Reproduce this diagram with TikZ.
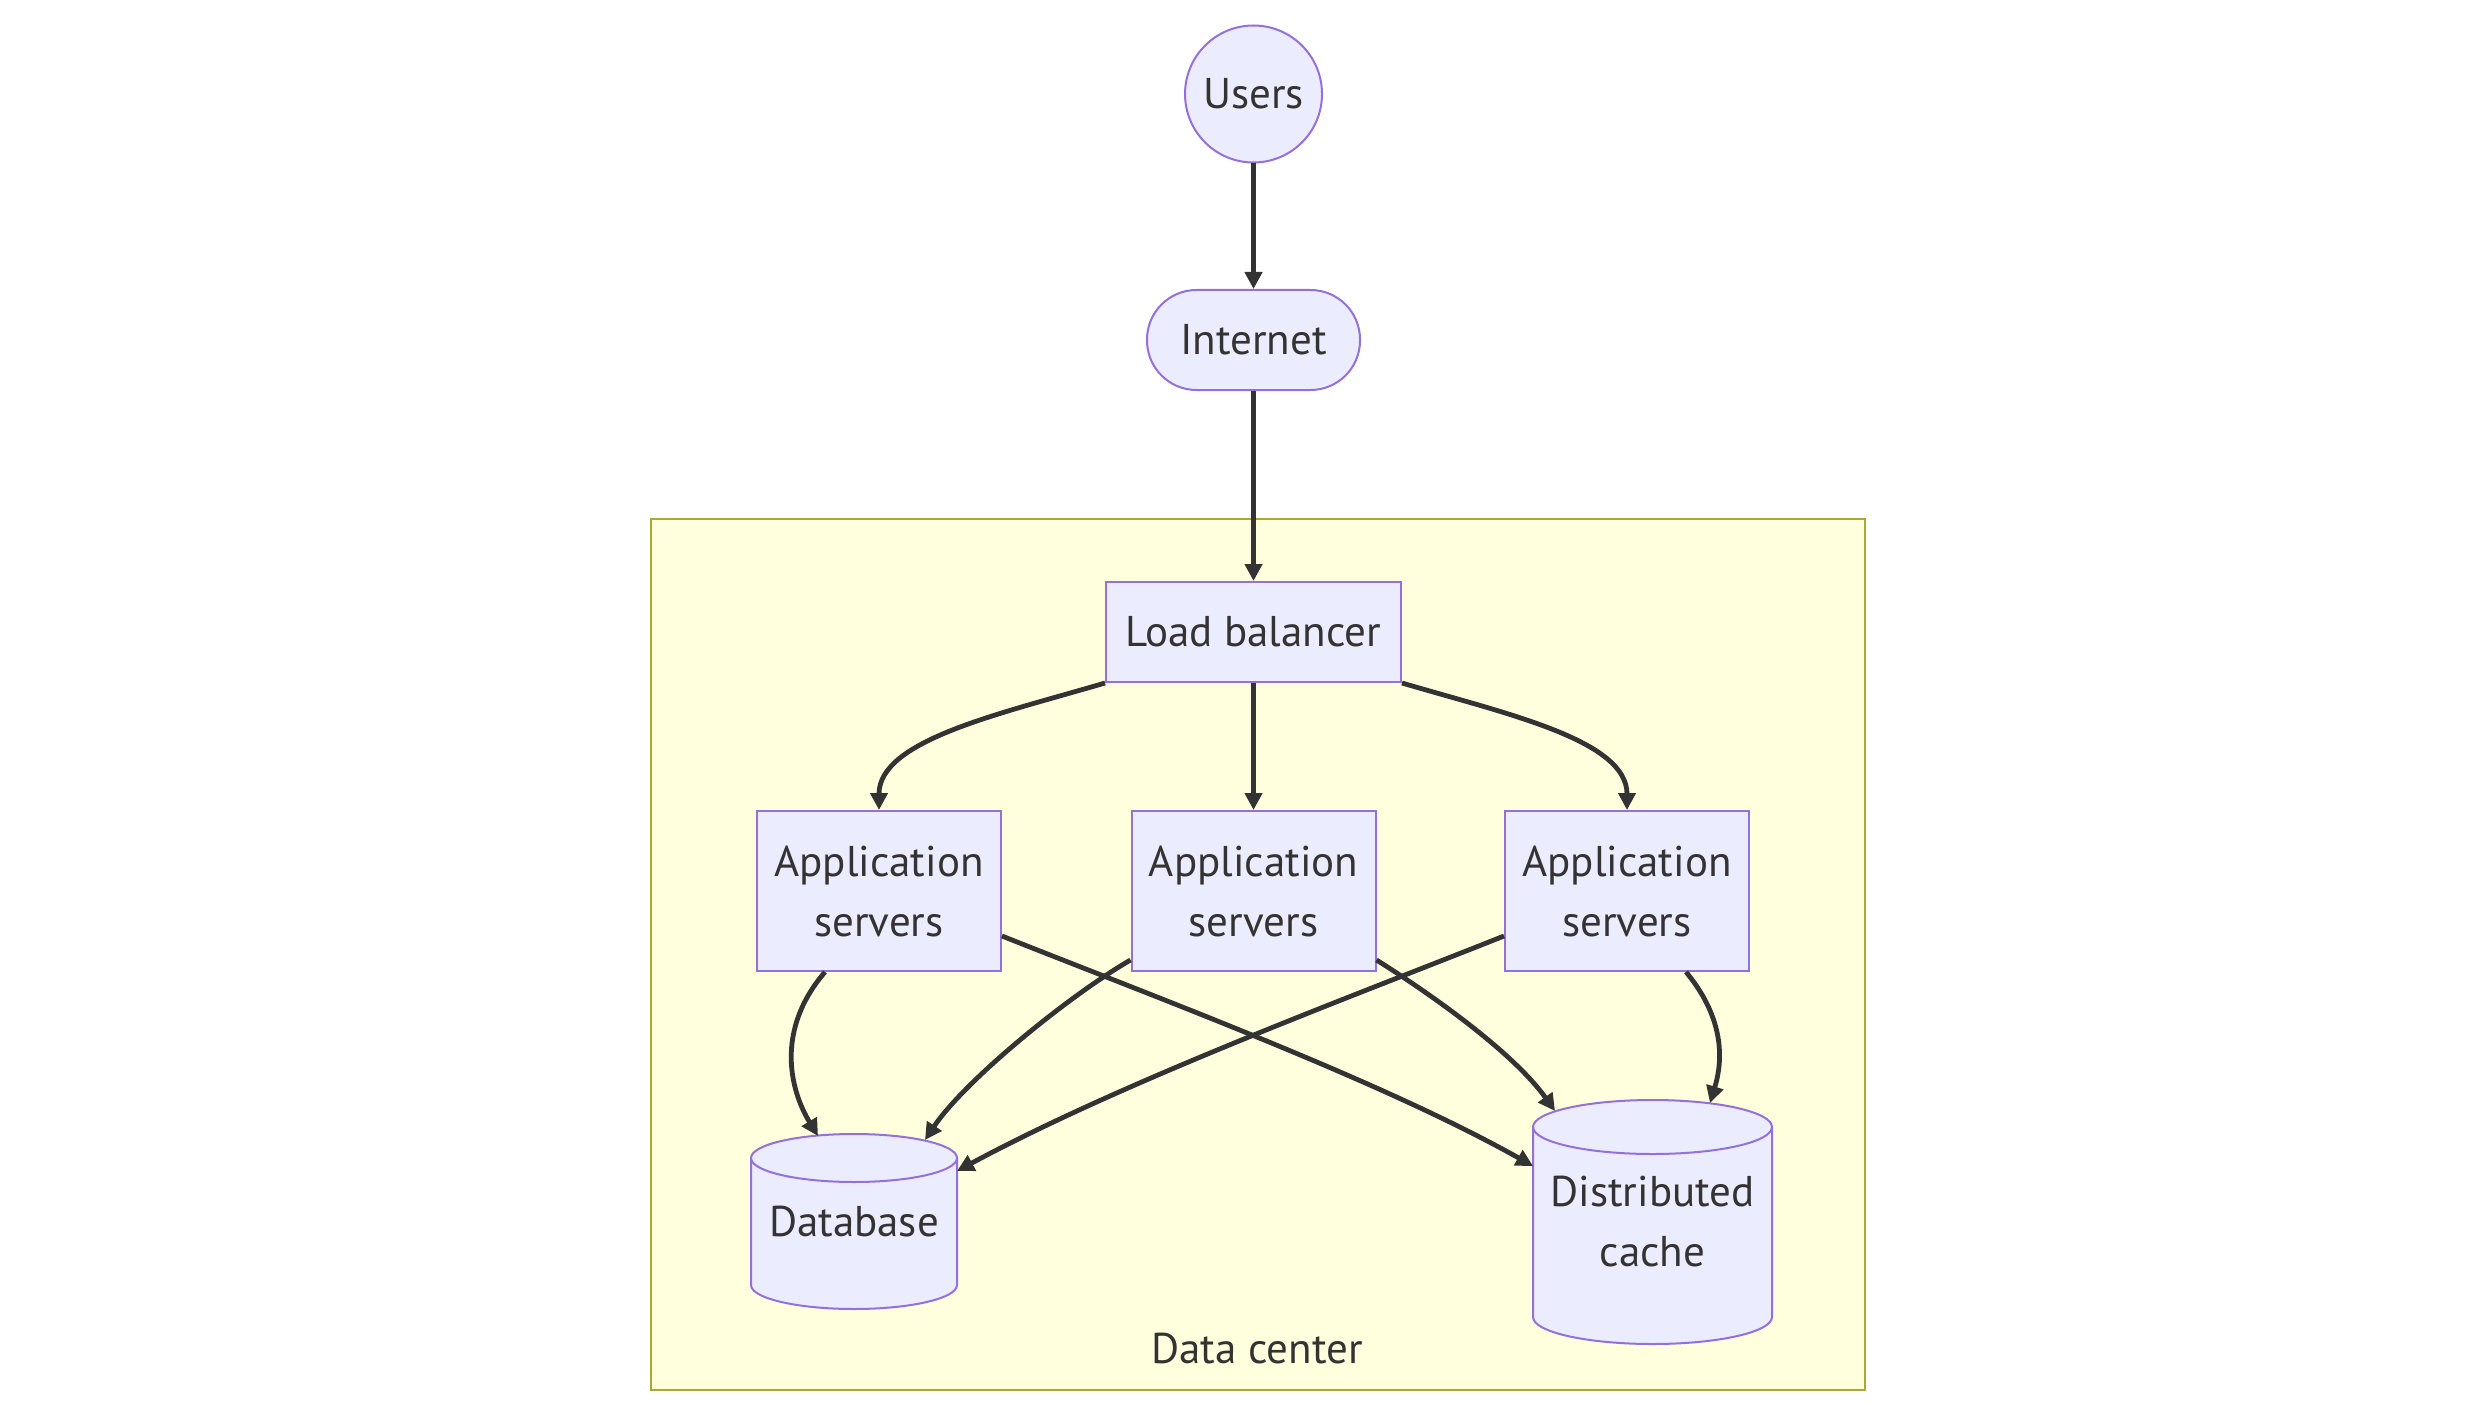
\documentclass[tikz,border=0pt]{standalone}
\usepackage{fontspec}
\setmainfont{PT Sans}
\usetikzlibrary{arrows.meta}
\definecolor{nodefill}{HTML}{ECECFF}
\definecolor{nodeline}{HTML}{9370DB}
\definecolor{clusterfill}{HTML}{FFFFDE}
\definecolor{clusterline}{HTML}{AAAA33}
\definecolor{ink}{HTML}{333333}
\newcommand\mycyl[5]{%
  \path[draw=nodeline, fill=nodefill, line width=2pt]
    (#1-#4, #2+#5) -- (#1-#4, #3-#5)
    arc[start angle=180, end angle=0, x radius=#4, y radius=#5]
    -- (#1+#4, #2+#5)
    arc[start angle=0, end angle=-180, x radius=#4, y radius=#5] -- cycle;
  \draw[nodeline, line width=2pt] (#1-#4, #2+#5)
    arc[start angle=180, end angle=0, x radius=#4, y radius=#5];
}
\begin{document}
\begin{tikzpicture}[x=1pt,y=-1pt,
  lbl/.style={text=ink, font=\fontsize{43}{60}\selectfont, align=center, inner sep=0pt},
  box/.style={lbl, draw=nodeline, fill=nodefill, line width=2pt},
  conn/.style={draw=ink, line width=4.8pt, -{Triangle[length=17pt,width=17pt]}},
]
\useasboundingbox (0,0) rectangle (2488,1420);
\fill[white] (0,0) rectangle (2488,1420);
% cluster
\draw[draw=clusterline, fill=clusterfill, line width=2pt] (650.5,519) rectangle (1864.5,1390);
\node[lbl] (dclabel) at (1257,1349) {Data center};
% nodes
\node[box, circle, minimum size=137pt] (users) at (1253.5,94) {Users};
\node[box, rounded corners=49.5pt, minimum width=213pt, minimum height=100pt] (internet) at (1253.5,340) {Internet};
\node[box, minimum width=295pt, minimum height=100pt] (lb) at (1253.5,632) {Load balancer};
\node[box, minimum width=244pt, minimum height=160pt] (app1) at (879,891) {Application\\servers};
\node[box, minimum width=244pt, minimum height=160pt] (app2) at (1253.5,891) {Application\\servers};
\node[box, minimum width=244pt, minimum height=160pt] (app3) at (1627,891) {Application\\servers};
\mycyl{854}{1134}{1309}{103}{24}
\node[lbl, minimum width=206pt, minimum height=175pt] (db) at (854,1221.5) {Database};
\mycyl{1652.5}{1100}{1344}{119.5}{27}
\node[lbl, minimum width=239pt, minimum height=244pt] (cache) at (1652.5,1222) {Distributed\\cache};
% connector ends on cylinders
\coordinate (dbA) at (818,1136);
\coordinate (dbB) at (925,1140);
\coordinate (dbC) at (957,1171);
\coordinate (caA) at (1533,1166);
\coordinate (caB) at (1555,1111);
\coordinate (caC) at (1710,1103);
% connectors
\draw[conn] (users) -- (internet);
\draw[conn] (internet) -- (lb);
\draw[conn] (lb.south west) .. controls (1000,714) and (879,740) .. (app1.north);
\draw[conn] (lb) -- (app2);
\draw[conn] (lb.south east) .. controls (1507,714) and (1627,740) .. (app3.north);
\draw[conn] ([xshift=-54pt]app1.south) .. controls (775,1030) and (790,1090) .. (dbA);
\draw[conn] ([yshift=-45pt]app1.east) .. controls (1150,995) and (1380,1080) .. (caA);
\draw[conn] ([yshift=-69pt]app2.west) .. controls (1070,995) and (965,1080) .. (dbB);
\draw[conn] ([yshift=-69pt]app2.east) .. controls (1440,1000) and (1515,1055) .. (caB);
\draw[conn] ([yshift=-45pt]app3.west) .. controls (1356,995) and (1126,1080) .. (dbC);
\draw[conn] ([xshift=59pt]app3.south) .. controls (1730,1025) and (1720,1070) .. (caC);
\end{tikzpicture}
\end{document}
